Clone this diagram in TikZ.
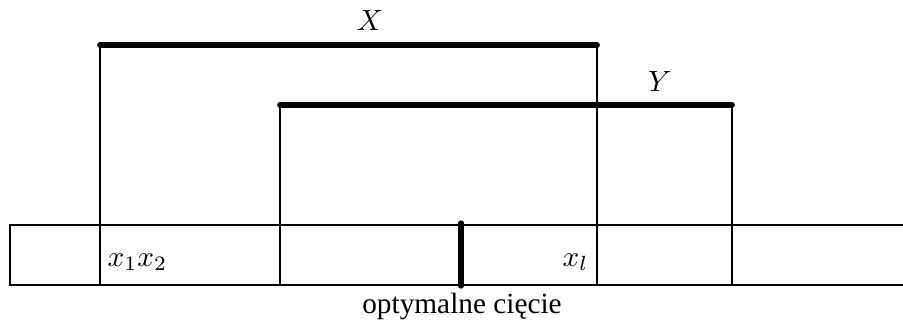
\documentclass[tikz,border=0pt]{standalone}
\usepackage[no-math]{fontspec}
\setmainfont{Liberation Serif}
\usepackage{tikz}
\usetikzlibrary{calc}
\tikzset{
  wire/.style={line width=0.6pt,draw=black},
  bar/.style={line width=2pt,line cap=round,draw=black},
  cutmark/.style={line width=1.8pt,line cap=round,draw=black},
  lbl/.style={inner sep=0pt,font=\normalsize},
}
\begin{document}
\begin{tikzpicture}[x=0.012cm,y=-0.012cm]
  \useasboundingbox (0,0) rectangle (903,323);
  % ── end points of the two intervals ──
  \coordinate (xa) at (100,45);
  \coordinate (xb) at (597,45);
  \coordinate (ya) at (280,105);
  \coordinate (yb) at (732,105);
  % ── the tape (open on the right) ──
  \coordinate (tl) at (10,225);
  \coordinate (bl) at (10,285);
  \coordinate (tr) at (903,225);
  \coordinate (br) at (903,285);
  \draw[wire] (tr) -- (tl) -- (bl) -- (br);
  % ── drops from interval ends to the tape ──
  \foreach \c in {xa,xb,ya,yb}{\draw[wire] (\c) -- (\c |- br);}
  % ── intervals ──
  \draw[bar] (xa) -- (xb);
  \draw[bar] (ya) -- (yb);
  \node[lbl] (xlbl) at (370,20) {$X$};
  \node[lbl] (ylbl) at (660,81) {$Y$};
  % ── cell labels ──
  \node[lbl,anchor=west] (x12) at (107,262) {$x_1x_2$};
  \node[lbl,anchor=east] (xl)  at (589,262) {$x_l$};
  % ── the cut ──
  \coordinate (cuttop) at (461,223);
  \coordinate (cutbot) at (461,286);
  \draw[cutmark] (cuttop) -- (cutbot);
  \node[lbl,anchor=base] (cutlbl) at (462,313) {optymalne cięcie};
\end{tikzpicture}
\end{document}
